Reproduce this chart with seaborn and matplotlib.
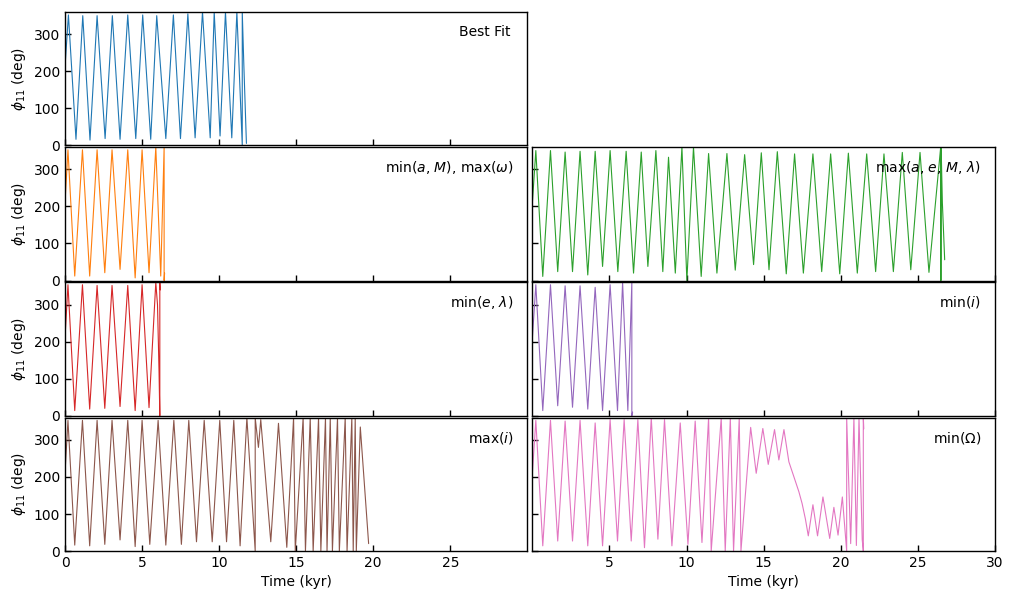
import matplotlib
matplotlib.use("Agg")
import matplotlib.pyplot as plt
import numpy as np
import pandas as pd
import seaborn as sns

# turning points of phi_11 (time in kyr, angle in deg)
bf_t = [0, 0.22, 0.71, 1.15, 1.62, 2.08, 2.6, 3.07, 3.57, 4.07, 4.59, 5.04, 5.56, 5.95,
        6.54, 7.03, 7.49, 7.97, 8.44, 8.92, 9.42, 9.68, 10.06, 10.41, 10.82, 11.15,
        11.5, 11.5, 11.6, 11.77]
bf_v = [213, 352, 16, 350, 14, 350, 18, 350, 16, 352, 18, 352, 16, 350,
        18, 352, 18, 355, 20, 360, 20, 360, 25, 360, 20, 360,
        0, 360, 220, 5]

minaM_t = [0, 0.19, 0.63, 1.13, 1.6, 2.08, 2.58, 3.05, 3.57, 4.07, 4.55, 5.0, 5.45,
           5.89, 6.21, 6.43, 6.43, 6.46]
minaM_v = [213, 353, 12, 353, 12, 353, 21, 353, 30, 353, 7, 353, 21,
           360, 12, 360, 0, 20]

maxaeM_t = [0, 0.22, 0.67, 1.17, 1.64, 2.12, 2.6, 3.09, 3.59, 4.07, 4.55, 5.04, 5.54,
            6.08, 6.56, 7.06, 7.49, 8.01, 8.46, 8.83, 9.27, 9.7, 10.02, 10.45, 10.95,
            11.43, 11.97, 12.62, 13.16, 13.77, 14.35, 14.85, 15.35, 15.89, 16.47,
            17.01, 17.58, 18.2, 18.77, 19.35, 19.94, 20.5, 21.08, 21.69, 22.27,
            22.81, 23.42, 24.0, 24.55, 25.15, 25.73, 26.49, 26.49, 26.52, 26.52,
            26.6, 26.75]
maxaeM_v = [213, 351, 11, 351, 24, 347, 24, 349, 15, 349, 38, 351, 24,
            349, 20, 347, 38, 351, 24, 333, 20, 360, 0, 360, 11,
            343, 20, 343, 28, 340, 43, 345, 29, 348, 18,
            342, 20, 342, 24, 342, 18, 344, 20, 342, 24,
            342, 24, 346, 29, 346, 22, 360, 0, 0, 360,
            210, 56]

mine_t = [0, 0.19, 0.63, 1.13, 1.6, 2.08, 2.58, 3.05, 3.57, 4.07, 4.55, 5.0, 5.45,
          5.89, 6.0, 6.1, 6.15, 6.15, 6.18]
mine_v = [213, 354, 14, 354, 18, 352, 20, 352, 25, 352, 14, 354, 22,
          360, 300, 120, 0, 360, 340]

mini_t = [0, 0.22, 0.67, 1.17, 1.64, 2.12, 2.6, 3.09, 3.59, 4.07, 4.55, 5.04, 5.52,
          5.85, 6.19, 6.45, 6.45, 6.5]
mini_v = [213, 354, 14, 354, 27, 351, 23, 351, 18, 347, 14, 354, 14,
          360, 14, 360, 0, 10]

maxi_t = [0, 0.19, 0.63, 1.13, 1.6, 2.08, 2.58, 3.05, 3.57, 4.07, 4.55, 5.0, 5.5,
          6.04, 6.54, 7.06, 7.55, 8.03, 8.53, 9.03, 9.55, 10.04, 10.48, 10.95, 11.36,
          11.8, 12.34, 12.34, 12.55, 12.7, 13.35, 13.85, 14.39, 14.83, 14.94, 15.45,
          15.6, 15.91, 16.1, 16.45, 16.6, 16.9, 17.0, 17.21, 17.35, 17.68, 17.8,
          18.18, 18.3, 18.61, 18.7, 18.83, 18.9, 19.16, 19.7]
maxi_v = [213, 353, 16, 353, 14, 353, 18, 353, 30, 353, 12, 353, 18,
          353, 16, 353, 18, 353, 25, 353, 25, 353, 25, 353, 14,
          360, 0, 360, 280, 355, 25, 345, 10, 360, 0, 360,
          0, 360, 0, 360, 0, 360, 0, 360, 0, 360, 0,
          360, 0, 360, 0, 360, 0, 335, 20]

minO_t = [0, 0.22, 0.67, 1.17, 1.64, 2.12, 2.6, 3.09, 3.59, 4.07, 4.55, 5.04, 5.52,
          5.95, 6.41, 6.84, 7.27, 7.71, 8.14, 8.57, 9.05, 9.59, 10.09, 10.56, 11.0,
          11.43, 11.6, 12.25, 12.51, 12.84, 13.05, 13.42, 13.53,
          14.16, 14.52, 14.95, 15.3, 15.71, 15.99, 16.32, 16.64, 16.97, 17.29, 17.5,
          17.71, 17.9, 18.2, 18.5, 18.85, 19.29, 19.56, 19.83, 20.11, 20.39, 20.39,
          20.65, 20.86, 21.02, 21.19, 21.4, 21.47, 21.47, 21.5]
minO_v = [213, 353, 14, 353, 27, 351, 27, 353, 14, 346, 14, 355, 27,
          355, 27, 355, 9, 360, 32, 355, 14, 346, 18, 351, 23,
          360, 0, 360, 0, 360, 0, 360, 0,
          334, 210, 331, 234, 328, 246, 328, 241, 200, 160, 128,
          87, 41, 125, 41, 146, 34, 118, 43, 146, 0, 360,
          20, 360, 15, 360, 30, 0, 360, 330]

panels = [
    (0, 0, bf_t, bf_v, "C0", "Best Fit", 0.963),
    (1, 0, minaM_t, minaM_v, "C1", r"min($a$, $M$), max($\omega$)", 0.97),
    (1, 1, maxaeM_t, maxaeM_v, "C2", r"max($a$, $e$, $M$, $\lambda$)", 0.97),
    (2, 0, mine_t, mine_v, "C3", r"min($e$, $\lambda$)", 0.97),
    (2, 1, mini_t, mini_v, "C4", r"min($i$)", 0.97),
    (3, 0, maxi_t, maxi_v, "C5", r"max($i$)", 0.97),
    (3, 1, minO_t, minO_v, "C6", r"min($\Omega$)", 0.97),
]

sns.set_style("ticks", {"axes.edgecolor": "black", "xtick.color": "black",
                        "ytick.color": "black", "text.color": "black",
                        "axes.labelcolor": "black",
                        "xtick.direction": "in", "ytick.direction": "in"})
plt.rcParams["font.family"] = ["DejaVu Sans"]

fig, axes = plt.subplots(4, 2, figsize=(10.13, 5.99), dpi=100)
fig.subplots_adjust(left=0.0642, right=0.982, top=0.98, bottom=0.0801,
                    wspace=0.011, hspace=0.015)

axes[0, 1].axis("off")

for r, c, t, v, col, lab, lx in panels:
    ax = axes[r, c]
    df = pd.DataFrame({"t": t, "phi": v})
    sns.lineplot(data=df, x="t", y="phi", sort=False, estimator=None,
                 color=col, linewidth=0.8, ax=ax)
    ax.set_xlim(0, 30)
    ax.set_ylim(0, 360)
    ax.set_yticks([0, 100, 200, 300])
    if c == 0:
        ax.set_xticks([0, 5, 10, 15, 20, 25])
        ax.set_ylabel(r"$\phi_{11}$ (deg)", fontsize=10)
    else:
        ax.set_xticks([5, 10, 15, 20, 25, 30])
        ax.set_ylabel("")
        ax.tick_params(labelleft=False)
    if r == 3:
        ax.set_xlabel("Time (kyr)", fontsize=10)
    else:
        ax.set_xlabel("")
        ax.tick_params(labelbottom=False)
    ax.tick_params(labelsize=10, direction="in", length=4, width=1)
    for s in ax.spines.values():
        s.set_linewidth(1.0)
        s.set_visible(True)
    ax.text(lx, 0.85, lab, transform=ax.transAxes, ha="right", va="center",
            fontsize=10)

fig.savefig("out.png", dpi=100)
